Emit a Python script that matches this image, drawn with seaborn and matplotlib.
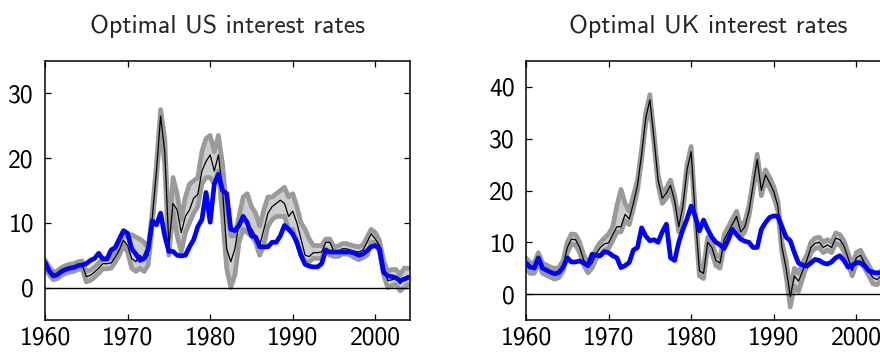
import numpy as np
import pandas as pd
import matplotlib
matplotlib.use("Agg")
import matplotlib.pyplot as plt
import seaborn as sns

# Half-yearly observation dates shared by every series
years = np.arange(1960.0, 2004.01, 0.5)

# ---- United States ----
us_actual = [
    3.7, 2.6, 1.8, 2.0, 2.5, 2.8, 3.0, 3.1, 3.4, 3.5,
    1.7, 1.9, 2.4, 3.0, 3.7, 3.7, 3.8, 4.7, 5.8, 7.3,
    6.5, 4.5, 4.0, 5.0, 4.2, 5.0, 11.0, 18.0, 26.5, 21.0,
    6.4, 13.0, 12.0, 8.5, 11.0, 12.0, 13.8, 14.4, 18.0, 19.5,
    20.5, 18.0, 20.5, 15.0, 6.0, 4.0, 6.0, 10.0, 11.1, 9.5,
    9.1, 8.0, 6.5, 9.0, 11.5, 12.5, 13.0, 13.5, 13.0, 11.0,
    11.8, 10.0, 7.5, 5.0, 4.8, 5.4, 5.4, 5.5, 7.0, 7.0,
    5.5, 5.6, 6.0, 6.0, 5.8, 5.6, 5.5, 5.8, 7.0, 8.3,
    7.5, 6.5, 3.4, 1.1, 1.2, 1.5, 0.6, 1.3, 1.8,
]
us_upper = [
    4.3, 3.2, 2.4, 2.6, 3.1, 3.4, 3.6, 3.7, 4.0, 4.1,
    2.5, 2.7, 3.2, 3.8, 4.5, 4.5, 4.6, 5.5, 6.6, 8.1,
    7.8, 8.2, 7.8, 7.5, 7.0, 6.0, 12.0, 19.0, 27.5, 23.0,
    8.0, 17.0, 14.5, 10.5, 14.0, 16.0, 16.5, 17.0, 21.0, 23.0,
    23.5, 21.0, 23.5, 19.0, 12.0, 8.0, 8.0, 11.0, 14.0, 14.5,
    12.5, 11.5, 9.5, 12.0, 14.0, 14.0, 14.5, 15.0, 15.5, 14.0,
    14.5, 12.5, 10.0, 9.0, 7.5, 6.5, 6.5, 6.5, 7.5, 7.5,
    6.3, 6.4, 6.8, 6.8, 6.6, 6.4, 6.3, 6.6, 7.8, 9.0,
    8.5, 7.3, 4.2, 2.5, 2.8, 2.8, 2.0, 3.0, 3.0,
]
us_lower = [
    3.1, 2.0, 1.2, 1.4, 1.9, 2.2, 2.4, 2.5, 2.8, 2.9,
    0.9, 1.1, 1.6, 2.2, 2.9, 2.9, 3.0, 3.9, 5.0, 6.5,
    5.5, 3.0, 2.5, 3.0, 2.5, 3.5, 10.0, 17.0, 25.0, 19.0,
    5.0, 12.0, 8.0, 5.5, 8.5, 10.0, 11.5, 12.5, 16.0, 17.0,
    17.0, 16.0, 18.0, 11.0, 3.0, 0.0, 2.0, 7.0, 9.0, 8.5,
    8.0, 7.0, 5.0, 6.5, 9.5, 10.5, 11.0, 11.0, 11.0, 9.0,
    9.0, 7.0, 5.0, 4.0, 4.0, 4.5, 4.5, 4.5, 6.0, 5.0,
    4.8, 4.8, 5.2, 5.2, 5.0, 4.6, 4.3, 4.6, 5.0, 7.0,
    7.0, 5.5, 2.0, 0.0, 0.3, 0.5, -0.5, 0.0, 0.5,
]
us_optimal = [
    3.9, 2.6, 1.8, 2.0, 2.5, 2.8, 3.0, 3.1, 3.4, 3.5,
    3.7, 4.2, 4.5, 5.3, 4.4, 4.4, 5.8, 6.2, 7.5, 8.8,
    8.4, 6.0, 5.2, 4.2, 4.5, 6.0, 10.3, 9.7, 11.5, 8.0,
    5.6, 5.6, 5.0, 4.9, 5.0, 6.3, 7.4, 9.4, 10.5, 14.7,
    10.1, 16.0, 17.5, 15.0, 14.5, 9.0, 8.8, 9.6, 11.0, 10.0,
    8.0, 7.8, 6.3, 6.3, 6.3, 7.0, 7.0, 8.0, 9.6, 9.0,
    8.3, 7.0, 5.0, 3.6, 3.3, 3.2, 3.2, 3.7, 5.8, 5.5,
    5.5, 5.5, 5.5, 5.5, 5.5, 5.3, 5.0, 5.2, 5.7, 6.3,
    6.5, 6.0, 2.4, 1.8, 1.7, 1.5, 1.1, 1.3, 1.6,
]

# ---- United Kingdom ----
uk_actual = [
    6.0, 5.0, 5.0, 7.0, 5.0, 4.6, 4.2, 3.9, 4.2, 5.5,
    9.0, 10.6, 10.5, 9.0, 6.5, 5.1, 6.0, 7.8, 9.0, 9.7,
    9.9, 11.5, 13.0, 13.0, 15.4, 14.5, 17.5, 21.0, 27.0, 34.0,
    37.5, 30.0, 22.0, 18.5, 19.5, 21.0, 18.0, 13.0, 17.0, 24.0,
    27.5, 15.0, 4.5, 4.0, 10.0, 9.0, 6.5, 6.0, 10.5, 12.0,
    13.5, 15.0, 12.0, 13.0, 16.0, 21.0, 26.0, 20.0, 23.0, 21.5,
    19.8, 17.0, 9.0, 5.0, -0.5, 3.5, 2.5, 4.5, 6.5, 9.0,
    9.8, 10.0, 9.0, 9.5, 9.0, 10.8, 10.5, 9.3, 7.0, 4.5,
    7.0, 7.5, 6.0, 4.6, 3.2, 2.8, 3.5, 4.0, 4.5,
]
uk_upper = [
    7.0, 6.0, 6.0, 8.0, 6.0, 5.6, 5.2, 4.9, 5.2, 6.5,
    10.0, 11.6, 11.5, 10.0, 7.5, 6.1, 7.0, 8.8, 10.0, 10.8,
    11.6, 13.0, 17.0, 20.2, 17.5, 16.0, 19.0, 22.0, 28.0, 35.0,
    38.5, 31.0, 23.0, 19.5, 20.5, 22.0, 19.0, 14.0, 18.0, 25.0,
    28.5, 16.0, 5.5, 5.0, 11.0, 10.0, 7.5, 7.0, 11.5, 13.0,
    14.5, 16.0, 13.0, 14.0, 17.0, 22.0, 27.0, 21.0, 24.0, 22.5,
    20.8, 18.0, 10.0, 6.5, 0.5, 5.0, 4.0, 6.0, 7.5, 10.0,
    10.8, 11.0, 10.0, 10.5, 10.0, 11.8, 11.5, 10.3, 8.0, 5.5,
    8.0, 8.5, 7.0, 5.6, 4.2, 3.8, 4.5, 5.0, 5.5,
]
uk_lower = [
    5.0, 4.0, 4.0, 6.0, 4.0, 3.6, 3.2, 2.9, 3.2, 4.5,
    8.0, 9.6, 9.5, 8.0, 5.5, 4.1, 5.0, 6.8, 7.5, 8.5,
    8.8, 10.3, 12.0, 12.0, 14.2, 13.4, 16.5, 20.0, 26.0, 33.0,
    36.5, 29.0, 21.0, 17.5, 18.5, 20.0, 17.0, 12.0, 16.0, 23.0,
    26.5, 14.0, 3.5, 3.0, 9.0, 8.0, 5.5, 5.0, 9.5, 11.0,
    12.5, 14.0, 11.0, 12.0, 15.0, 20.0, 25.0, 19.0, 22.0, 20.5,
    18.8, 16.0, 8.0, 3.5, -2.5, 1.5, 0.5, 3.0, 5.5, 8.0,
    8.8, 9.0, 8.0, 8.5, 8.0, 9.8, 9.5, 8.3, 6.0, 3.5,
    6.0, 6.5, 5.0, 3.6, 2.0, 1.8, 2.5, 3.0, 3.5,
]
uk_optimal = [
    6.0, 5.2, 5.0, 7.0, 5.0, 4.6, 4.2, 3.9, 4.2, 5.2,
    7.0, 6.2, 6.2, 6.4, 6.0, 5.5, 7.7, 7.5, 7.4, 8.2,
    8.0, 7.4, 7.0, 5.1, 5.5, 6.1, 8.5, 9.0, 12.8, 11.2,
    10.3, 10.5, 10.0, 12.0, 13.5, 7.0, 6.5, 10.0, 12.5, 14.5,
    17.0, 15.0, 12.2, 14.3, 12.5, 11.0, 10.0, 9.5, 8.8, 10.5,
    12.5, 11.5, 10.6, 10.2, 10.0, 9.0, 9.0, 12.5, 13.8, 14.8,
    15.1, 15.0, 13.0, 11.0, 10.3, 8.0, 6.0, 5.6, 5.4, 6.0,
    6.7, 6.5, 6.0, 5.8, 6.2, 7.0, 7.4, 6.5, 5.2, 5.5,
    6.1, 6.0, 5.5, 4.5, 4.2, 4.1, 4.1, 4.2, 4.5,
]

titles = ["Optimal US interest rates", "Optimal UK interest rates"]
x_ticks = [1960, 1970, 1980, 1990, 2000]
us_yticks = [0, 10, 20, 30]
uk_yticks = [0, 10, 20, 30, 40]

sns.set_style("ticks")
plt.rcParams["font.family"] = ["cmss10", "DejaVu Sans"]
plt.rcParams["axes.unicode_minus"] = False
plt.rcParams["mathtext.fontset"] = "cm"

fig = plt.figure(figsize=(8.8, 3.54), dpi=100)
W, H = 880.0, 354.0
ax_us = fig.add_axes([45 / W, 34 / H, 365 / W, 259 / H])
ax_uk = fig.add_axes([526 / W, 34 / H, 365 / W, 259 / H])

band_fill = "#cdcdcd"
band_edge = "#9a9a9a"


def draw_panel(ax, actual, upper, lower, optimal, title, yticks, ylim):
    df = pd.DataFrame({"year": years, "actual": actual, "upper": upper,
                       "lower": lower, "optimal": optimal})
    ax.fill_between(df["year"], df["lower"], df["upper"], color=band_fill,
                    linewidth=0, zorder=1)
    for col in ("upper", "lower"):
        sns.lineplot(data=df, x="year", y=col, ax=ax, color=band_edge,
                     linewidth=3.4, solid_capstyle="round", zorder=2,
                     legend=False)
    ax.axhline(0, color="black", linewidth=1.0, zorder=2.5)
    sns.lineplot(data=df, x="year", y="actual", ax=ax, color="black",
                 linewidth=0.9, zorder=3, legend=False)
    sns.lineplot(data=df, x="year", y="optimal", ax=ax, color="#0000ff",
                 linewidth=3.4, solid_capstyle="round", zorder=4,
                 legend=False)
    ax.set_xlim(1960, 2004.2)
    ax.set_ylim(*ylim)
    ax.set_xticks(x_ticks)
    ax.set_yticks(yticks)
    ax.set_xlabel("")
    ax.set_ylabel("")
    ax.set_title(title, fontsize=18.5, pad=20)
    ax.tick_params(direction="in", top=True, right=True, length=4,
                   width=0.9, labelsize=18.5, colors="black")
    ax.tick_params(axis="x", pad=5)
    ax.tick_params(axis="y", pad=8)
    for sp in ax.spines.values():
        sp.set_visible(True)
        sp.set_linewidth(1.1)
        sp.set_color("black")


draw_panel(ax_us, us_actual, us_upper, us_lower, us_optimal, titles[0],
           us_yticks, (-5, 35))
draw_panel(ax_uk, uk_actual, uk_upper, uk_lower, uk_optimal, titles[1],
           uk_yticks, (-5, 45))

fig.savefig("out.png", dpi=100)
